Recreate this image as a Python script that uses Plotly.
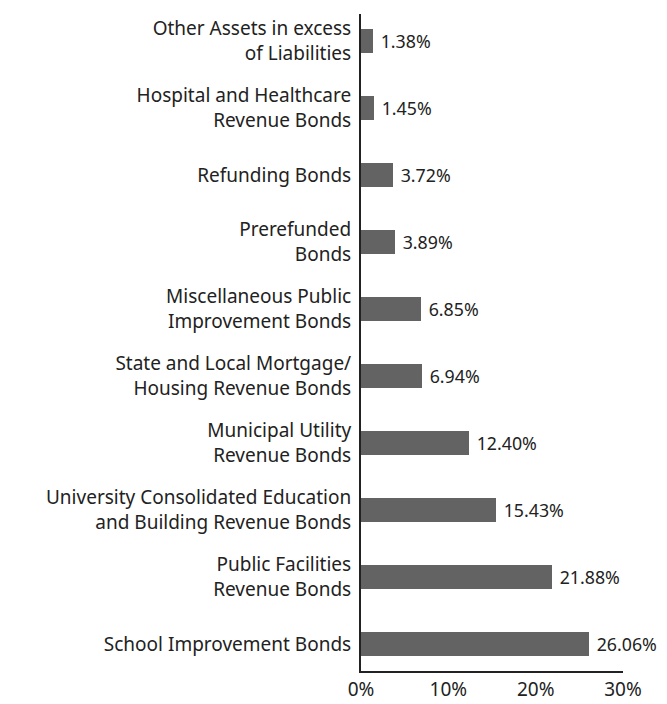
import plotly.graph_objects as go

categories = [
    "School Improvement Bonds",
    "Public Facilities<br>Revenue Bonds",
    "University Consolidated Education<br>and Building Revenue Bonds",
    "Municipal Utility<br>Revenue Bonds",
    "State and Local Mortgage/<br>Housing Revenue Bonds",
    "Miscellaneous Public<br>Improvement Bonds",
    "Prerefunded<br>Bonds",
    "Refunding Bonds",
    "Hospital and Healthcare<br>Revenue Bonds",
    "Other Assets in excess<br>of Liabilities",
]
values = [26.06, 21.88, 15.43, 12.40, 6.94, 6.85, 3.89, 3.72, 1.45, 1.38]
x_ticks = [0, 10, 20, 30]
x_tick_labels = ["0%", "10%", "20%", "30%"]

font_family = "Noto Sans, Open Sans, sans-serif"
text_color = "#222222"
fsize = 19
nsize = 20

fig = go.Figure(
    go.Bar(
        y=list(range(len(categories))),
        x=values,
        orientation="h",
        marker=dict(color="#636363", line=dict(width=0)),
        width=0.36,
        text=[f"\u00a0{v:.2f}%" for v in values],
        textposition="outside",
        textfont=dict(size=nsize, color=text_color, family=font_family),
        cliponaxis=False,
    )
)

fig.update_layout(
    width=667,
    height=704,
    margin=dict(l=361, r=44, t=14, b=33),
    paper_bgcolor="white",
    plot_bgcolor="white",
    showlegend=False,
    font=dict(family=font_family, size=fsize, color=text_color),
    bargap=0,
)

fig.update_xaxes(
    range=[0, 30],
    tickvals=x_ticks,
    ticktext=x_tick_labels,
    showgrid=False,
    zeroline=False,
    showline=True,
    linecolor=text_color,
    linewidth=2,
    ticks="",
    ticklabelstandoff=0,
    automargin=False,
    tickfont=dict(size=19, color=text_color),
)

fig.update_yaxes(
    range=[-0.4, 9.4],
    tickvals=list(range(len(categories))),
    ticktext=categories,
    showgrid=False,
    zeroline=False,
    showline=True,
    linecolor=text_color,
    linewidth=2,
    ticks="",
    ticklabelstandoff=4,
    automargin=False,
    tickfont=dict(size=fsize, color=text_color),
)

fig.write_html(
    "out.html",
    config={"displayModeBar": False},
    post_script="document.body.style.margin='0';document.body.style.padding='0';",
)
